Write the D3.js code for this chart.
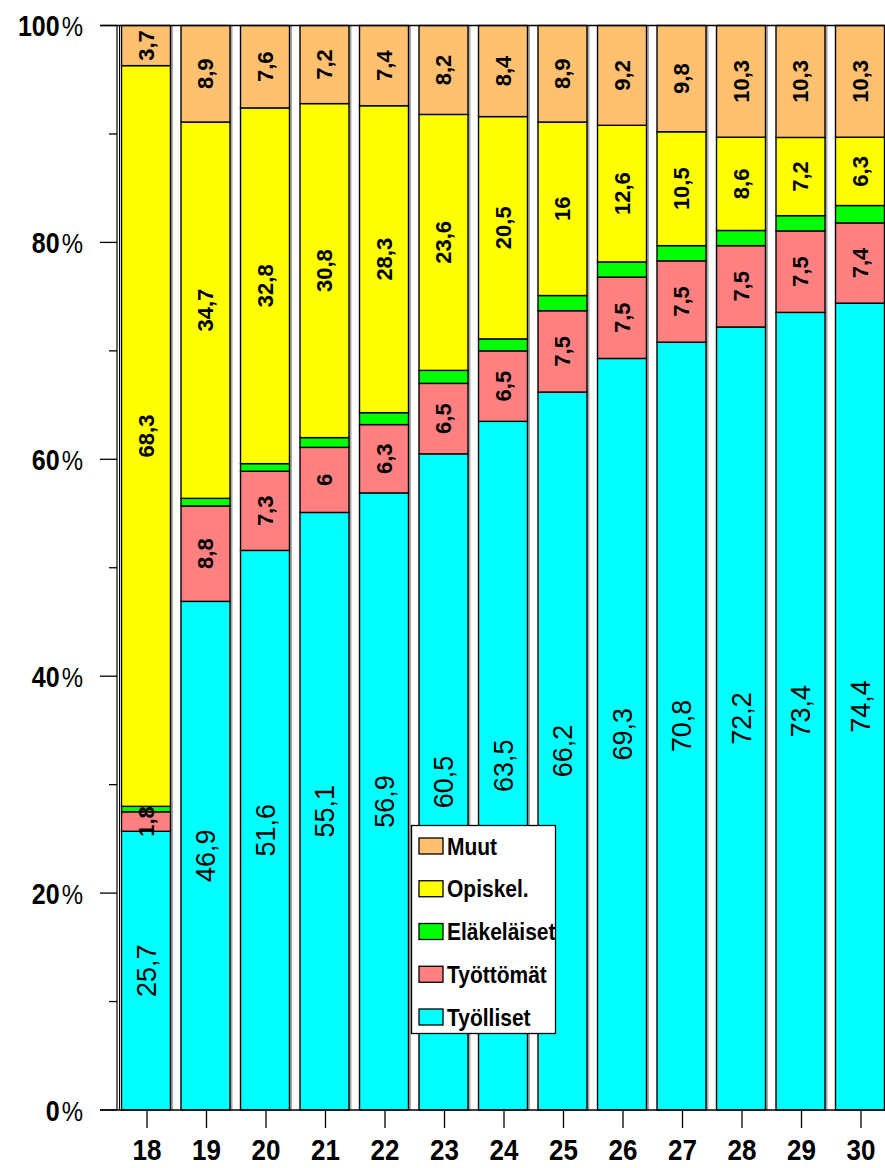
<!DOCTYPE html>
<html>
<head>
<meta charset="utf-8">
<script src="https://cdn.jsdelivr.net/npm/d3@7"></script>
<style>
  body { margin: 0; background: #fff; }
  text { font-family: "Liberation Sans", Arial, sans-serif; }
</style>
</head>
<body>
<svg id="chart" width="885" height="1168"></svg>
<script>
// ages on the x axis
var ages = [18, 19, 20, 21, 22, 23, 24, 25, 26, 27, 28, 29, 30];
// series values (per cent)
var tyolliset   = [25.7, 46.9, 51.6, 55.1, 56.9, 60.5, 63.5, 66.2, 69.3, 70.8, 72.2, 73.4, 74.4];
var tyottomat   = [1.8, 8.8, 7.3, 6, 6.3, 6.5, 6.5, 7.5, 7.5, 7.5, 7.5, 7.5, 7.4];
var elakelaiset = [0.5, 0.7, 0.7, 0.9, 1.1, 1.2, 1.1, 1.4, 1.4, 1.4, 1.4, 1.4, 1.6];
var opiskel     = [68.3, 34.7, 32.8, 30.8, 28.3, 23.6, 20.5, 16, 12.6, 10.5, 8.6, 7.2, 6.3];
var muut        = [3.7, 8.9, 7.6, 7.2, 7.4, 8.2, 8.4, 8.9, 9.2, 9.8, 10.3, 10.3, 10.3];
var yTicks = [0, 20, 40, 60, 80, 100];

var seriesKeys = ["Työlliset", "Työttömät", "Eläkeläiset", "Opiskel.", "Muut"];
var seriesVals = [tyolliset, tyottomat, elakelaiset, opiskel, muut];
var colors = ["#00ffff", "#ff8080", "#00ff00", "#ffff00", "#ffc070"];

// build rows for d3.stack
var rows = ages.map(function (a, i) {
  var r = { age: a };
  seriesKeys.forEach(function (k, j) { r[k] = seriesVals[j][i]; });
  return r;
});

var stacked = d3.stack().keys(seriesKeys).offset(d3.stackOffsetExpand)(rows);

var svg = d3.select("#chart");
var yTop = 25.5, yBot = 1110;

var x = d3.scaleBand().domain(ages).range([116.25, 889.75])
  .paddingInner(0.16).paddingOuter(0.08);
var y = d3.scaleLinear().domain([0, 1]).range([yBot, yTop]);

var fmt = function (v) { return String(v).replace(".", ","); };

// bar shadows
svg.append("g").selectAll("rect").data(ages).enter().append("rect")
  .attr("x", d => x(d) + 2)
  .attr("y", yTop)
  .attr("width", x.bandwidth())
  .attr("height", yBot - yTop)
  .attr("fill", "#a8a8a8");

// bars
var layers = svg.append("g").selectAll("g").data(stacked).enter().append("g")
  .attr("fill", (d, i) => colors[i]);

layers.selectAll("rect").data(d => d).enter().append("rect")
  .attr("x", d => x(d.data.age) + 0.5)
  .attr("y", d => y(d[1]))
  .attr("width", x.bandwidth() - 1)
  .attr("height", d => y(d[0]) - y(d[1]))
  .attr("stroke", "#000")
  .attr("stroke-width", 1.4);

// clip paths for the thin Eläkeläiset segments
var defs = svg.append("defs");
stacked[2].forEach(function (d, i) {
  defs.append("clipPath").attr("id", "clipE" + i).append("rect")
    .attr("x", x(d.data.age))
    .attr("y", y(d[1]))
    .attr("width", x.bandwidth())
    .attr("height", Math.max(0, y(d[0]) - y(d[1])));
});

// value labels
stacked.forEach(function (layer, li) {
  var key = layer.key;
  layer.forEach(function (d, i) {
    var cx = x(d.data.age) + x.bandwidth() / 2;
    var cy = (y(d[0]) + y(d[1])) / 2;
    var t = svg.append("text")
      .attr("transform", "translate(" + cx + "," + cy + ") rotate(-90)")
      .attr("text-anchor", "middle")
      .attr("dy", "0.36em")
      .attr("fill", "#000")
      .text(fmt(d.data[key]));
    if (li === 0) {
      t.attr("font-size", 27);
    } else if (li === 2) {
      t.attr("font-size", 15).attr("font-weight", "bold")
        .attr("clip-path", "url(#clipE" + i + ")");
    } else {
      t.attr("font-size", 22).attr("font-weight", "bold");
    }
  });
});

// frame lines
svg.append("line").attr("x1", 100).attr("x2", 885).attr("y1", yTop).attr("y2", yTop)
  .attr("stroke", "#000").attr("stroke-width", 1.3);
svg.append("line").attr("x1", 100).attr("x2", 885).attr("y1", yBot).attr("y2", yBot)
  .attr("stroke", "#000").attr("stroke-width", 1.3);
svg.append("line").attr("x1", 117).attr("x2", 117).attr("y1", yTop).attr("y2", yBot)
  .attr("stroke", "#000").attr("stroke-width", 1.2);
svg.append("line").attr("x1", 119.5).attr("x2", 119.5).attr("y1", yTop).attr("y2", yBot)
  .attr("stroke", "#000").attr("stroke-width", 1);

// y ticks: minor every 10 %, major every 20 %
var yPct = d3.scaleLinear().domain([0, 100]).range([yBot, yTop]);
var minor = d3.range(0, 101, 10);
svg.append("g").selectAll("line").data(minor).enter().append("line")
  .attr("x1", d => (d % 20 === 0 ? 100 : 109))
  .attr("x2", 117)
  .attr("y1", d => yPct(d)).attr("y2", d => yPct(d))
  .attr("stroke", "#000").attr("stroke-width", 1.3);

var yl = svg.append("g").selectAll("text").data(yTicks).enter().append("text")
  .attr("transform", d => "translate(83," + yPct(d) + ") scale(1,1.17)")
  .attr("text-anchor", "end")
  .attr("dy", "0.36em")
  .attr("font-size", 25)
  .attr("font-weight", "bold");
yl.append("tspan").text(d => d);
yl.append("tspan").attr("font-weight", "normal").attr("font-size", 24).attr("dx", 2).text("%");

// x ticks
svg.append("g").selectAll("line").data(ages).enter().append("line")
  .attr("x1", d => x(d) + x.bandwidth() / 2 + 1)
  .attr("x2", d => x(d) + x.bandwidth() / 2 + 1)
  .attr("y1", yBot).attr("y2", yBot + 18)
  .attr("stroke", "#000").attr("stroke-width", 1.3);

svg.append("g").selectAll("text").data(ages).enter().append("text")
  .attr("transform", d => "translate(" + (x(d) + x.bandwidth() / 2 + 1) + ",1160) scale(1,1.15)")
  .attr("text-anchor", "middle")
  .attr("font-size", 26)
  .attr("font-weight", "bold")
  .text(d => d);

// legend
var legendOrder = [4, 3, 2, 1, 0];
var lg = svg.append("g");
lg.append("rect").attr("x", 411.5).attr("y", 825.5).attr("width", 144).attr("height", 208)
  .attr("fill", "#fff").attr("stroke", "#000").attr("stroke-width", 1.3);
var rowsL = lg.selectAll("g.item").data(legendOrder).enter().append("g")
  .attr("transform", (d, i) => "translate(0," + (846 + i * 42.75) + ")");
rowsL.append("rect")
  .attr("x", 419).attr("y", -8).attr("width", 24).attr("height", 16)
  .attr("fill", d => colors[d]).attr("stroke", "#000").attr("stroke-width", 1.3);
rowsL.append("text")
  .attr("transform", "translate(447,0) scale(1,1.15)")
  .attr("dy", "0.36em")
  .attr("font-size", 21)
  .attr("font-weight", "bold")
  .text(d => seriesKeys[d]);
</script>
</body>
</html>
